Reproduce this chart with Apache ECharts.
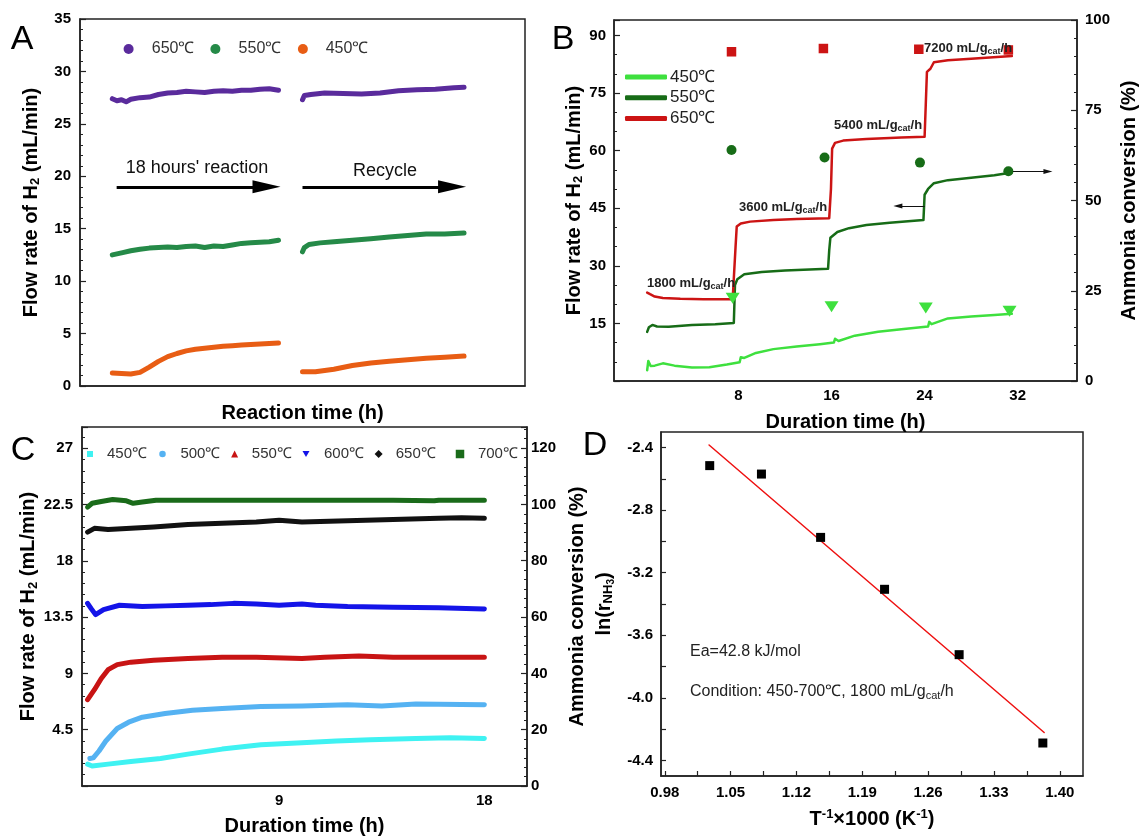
<!DOCTYPE html>
<html><head><meta charset="utf-8">
<script src="https://cdn.jsdelivr.net/npm/echarts@6/dist/echarts.min.js"></script>
<style>html,body{margin:0;padding:0;background:#fff}#c{width:1140px;height:840px}</style>
</head><body><div id="c"></div><script>
const FONT = 'Arial, "Liberation Sans", Helvetica, sans-serif';

// ---------- Panel A: H2 flow rate, 18 h reaction + recycle ----------
const tempsA = ['650℃', '550℃', '450℃'];
const a650s1 = [[0,27.4],[0.5,27.2],[1,27.3],[1.5,27.1],[2,27.35],[3,27.5],[4,27.55],[5,27.8],[6,27.95],[7,28.0],[8,28.1],[9,28.05],[10,28.0],[11,28.1],[12,28.15],[13,28.1],[14,28.2],[15,28.2],[16,28.3],[17,28.35],[18,28.2]];
const a650s2 = [[20.6,27.3],[20.8,27.7],[21.5,27.8],[23,27.95],[25,27.9],[27,27.85],[29,27.95],[31,28.15],[33,28.25],[35,28.3],[37,28.45],[38.1,28.5]];
const a550s1 = [[0,12.5],[1,12.7],[2,12.9],[3,13.05],[4,13.15],[5,13.2],[6,13.25],[7,13.2],[8,13.3],[9,13.35],[10,13.2],[11,13.35],[12,13.3],[13,13.45],[14,13.6],[15,13.65],[16,13.7],[17,13.75],[18,13.9]];
const a550s2 = [[20.6,12.8],[20.8,13.2],[21.3,13.5],[22.5,13.65],[24,13.75],[26,13.9],[28,14.05],[30,14.2],[32,14.35],[34,14.5],[36,14.5],[38.1,14.6]];
const a450s1 = [[0,1.25],[1,1.2],[2,1.15],[3,1.3],[4,1.8],[5,2.35],[6,2.8],[7,3.1],[8,3.35],[9,3.5],[10,3.6],[11,3.7],[12,3.8],[13,3.85],[14,3.9],[15,3.95],[16,4.0],[17,4.05],[18,4.1]];
const a450s2 = [[20.6,1.35],[22,1.35],[24,1.6],[26,1.95],[28,2.2],[30,2.35],[32,2.5],[34,2.65],[36,2.75],[38.1,2.85]];
const arrowsA = [[0.47, 16.7, 19.0], [20.6, 36.8, 19.0]]; // [xStart, xEnd, y]

// ---------- Panel B: flow rate vs GHSV ----------
const tempsB = ['450℃', '550℃', '650℃'];
const b450 = [[0.15,2.8],[0.25,5.2],[0.45,3.9],[0.8,4.0],[1.5,4.6],[2.5,4.0],[4,3.5],[5.5,3.6],[7,4.3],[8.1,4.9],[8.2,6.2],[8.5,6.0],[9.5,7.3],[11,8.3],[13,9.0],[15,9.6],[16.2,10.0],[16.3,11.0],[16.6,10.4],[18,11.8],[20,12.8],[22,13.5],[24.3,14.2],[24.4,15.4],[24.6,14.8],[26,16.3],[28,16.8],[30,17.2],[31.5,17.5]];
const b550 = [[0.15,12.8],[0.3,14.0],[0.6,14.6],[1,14.2],[2,14.1],[4,14.6],[6,14.8],[7.6,15.1],[7.7,25],[7.9,26.5],[8.5,27.8],[10,28.4],[12,28.8],[15.7,29.2],[15.8,34],[15.9,37.3],[16.5,38.8],[17.5,39.8],[19,40.6],[21,41.2],[23.9,41.9],[24.0,48.5],[24.3,50],[24.8,51.5],[26,52.3],[28,52.9],[30,53.6],[31.5,54.3]];
const b650 = [[0.15,23.0],[0.4,22.6],[0.8,22.0],[1.5,21.6],[3,21.4],[5,21.3],[7.5,21.3],[7.65,21.5],[7.75,35],[7.85,40.2],[8.2,41.0],[9,41.5],[11,41.9],[13,42.2],[15.8,42.4],[15.95,50],[16.05,60.5],[16.3,62],[17,62.6],[19,63.0],[22,63.4],[24.0,63.6],[24.1,72],[24.2,80.5],[24.5,81.3],[24.8,83.0],[26,83.5],[28,83.9],[31.5,84.6]];
const conv450 = [[7.5,22.9],[16.0,20.6],[24.1,20.2],[31.3,19.3]];
const conv550 = [[7.4,64.0],[15.4,61.9],[23.6,60.5],[31.2,58.1]];
const conv650 = [[7.4,91.2],[15.3,92.1],[23.5,91.9],[31.2,91.7]];
const ghsvLabels = ['1800', '3600', '5400', '7200'];
const xTicksB = [8, 16, 24, 32];

// ---------- Panel C: flow rate at different temperatures ----------
const tempsC = ['450℃', '500℃', '550℃', '600℃', '650℃', '700℃'];
const c450 = [[0.6,1.75],[0.8,1.6],[1.5,1.75],[2.5,1.95],[3.8,2.2],[5,2.55],[6.5,2.95],[8.2,3.3],[10,3.45],[11.5,3.6],[13,3.7],[15,3.8],[16.5,3.85],[18,3.8]];
const c500 = [[0.7,2.2],[0.85,2.25],[1.1,2.8],[1.4,3.6],[1.9,4.6],[2.4,5.1],[3,5.5],[4,5.8],[5.2,6.05],[6.5,6.2],[8.2,6.35],[10,6.4],[12,6.5],[13.5,6.4],[15,6.55],[18,6.5]];
const c550 = [[0.6,6.9],[0.9,7.7],[1.2,8.6],[1.5,9.3],[1.9,9.7],[2.5,9.9],[3.5,10.05],[5,10.2],[6.5,10.3],[8,10.3],[10,10.2],[11,10.3],[12.5,10.4],[14,10.3],[16,10.3],[18,10.3]];
const c600 = [[0.6,14.6],[0.75,14.2],[0.95,13.7],[1.3,14.1],[2,14.45],[3,14.35],[4,14.4],[5,14.45],[6,14.5],[7,14.6],[8,14.55],[9,14.45],[10,14.55],[10.6,14.45],[12,14.35],[14,14.3],[16,14.25],[18,14.15]];
const c650 = [[0.6,20.3],[0.9,20.6],[1.5,20.5],[2.5,20.6],[3.5,20.7],[5,20.9],[6.5,21.0],[8,21.1],[9,21.25],[10,21.1],[12,21.2],[14,21.3],[16,21.4],[17,21.45],[18,21.4]];
const c700 = [[0.6,22.3],[0.8,22.6],[1.2,22.75],[1.7,22.9],[2.3,22.8],[2.6,22.6],[3,22.7],[3.6,22.85],[5,22.85],[8,22.85],[11,22.85],[14,22.85],[15.8,22.8],[16,22.85],[18,22.85]];
const xTicksC = [9, 18];

// ---------- Panel D: Arrhenius plot ----------
const invT = [1.0278, 1.0828, 1.1457, 1.2137, 1.2930, 1.3820];
const lnRate = [-2.515, -2.569, -2.974, -3.306, -3.724, -4.289];
const fitLine = [[1.0271, -2.383], [1.3834, -4.222]];
const xTicksD = [0.98, 1.05, 1.12, 1.19, 1.26, 1.33, 1.40];
const xMinorD = [1.015, 1.085, 1.155, 1.225, 1.295, 1.365];
const yTicksD = [-4.4, -4.0, -3.6, -3.2, -2.8, -2.4];
const yMinorD = [-4.2, -3.8, -3.4, -3.0, -2.6];

// ---------- styles ----------
const AX = '#222';
const colA = {'650℃': '#5a2b9c', '550℃': '#258a48', '450℃': '#e85d14'};
const colB = {'450℃': '#3ee03e', '550℃': '#176c17', '650℃': '#cc1414'};
const colC = {'450℃': '#3ff2f2', '500℃': '#55b2f2', '550℃': '#c81414', '600℃': '#1414e8', '650℃': '#111111', '700℃': '#1a6b1a'};
const tickLabel = {fontSize: 15, fontWeight: 'bold', color: '#000', fontFamily: FONT};
const nameStyle = {fontSize: 20, fontWeight: 'bold', color: '#000', fontFamily: FONT,
  rich: {s: {fontSize: 13, fontWeight: 'bold', fontFamily: FONT, color: '#000', padding: [9, 0, 0, 0]},
         ss: {fontSize: 10, fontWeight: 'bold', fontFamily: FONT, color: '#000', padding: [14, 0, 0, 0]},
         p: {fontSize: 13, fontWeight: 'bold', fontFamily: FONT, color: '#000', padding: [0, 0, 10, 0]}}};
const axLine = {show: true, onZero: false, lineStyle: {color: AX, width: 1.5}};
const gridBox = {show: true, borderColor: AX, borderWidth: 1.5, backgroundColor: 'transparent', outerBoundsMode: 'none', containLabel: false};

function yAx(o) {
  return Object.assign({type: 'value', position: 'left', axisLine: axLine, splitLine: {show: false},
    axisTick: {show: true, inside: true, length: 6, lineStyle: {color: AX, width: 1.2}},
    minorTick: {show: true, splitNumber: 5, length: 3, lineStyle: {color: AX, width: 1}},
    nameLocation: 'middle', nameRotate: 90, nameTextStyle: nameStyle}, o);
}
function xAx(o) {
  return Object.assign({type: 'value', position: 'bottom', axisLine: axLine, splitLine: {show: false},
    axisTick: {show: false}, nameLocation: 'middle', nameTextStyle: nameStyle}, o);
}

const option = {
  backgroundColor: '#fff',
  animation: false,
  grid: [
    Object.assign({left: 80, top: 19, width: 445, height: 367}, gridBox),
    Object.assign({left: 614, top: 20, width: 463, height: 361}, gridBox),
    Object.assign({left: 82, top: 427, width: 445, height: 359}, gridBox),
    Object.assign({left: 661, top: 432, width: 422, height: 344}, gridBox)
  ],
  xAxis: [
    xAx({gridIndex: 0, min: -3.5, max: 44.7, axisLabel: {show: false}, name: 'Reaction time (h)', nameGap: 17}),
    xAx({gridIndex: 1, min: -2.7, max: 37.1, name: 'Duration time (h)', nameGap: 31,
      axisLabel: Object.assign({customValues: xTicksB, margin: 7}, tickLabel)}),
    xAx({gridIndex: 2, min: 0.355, max: 19.87, name: 'Duration time (h)', nameGap: 30,
      axisLabel: Object.assign({customValues: xTicksC, margin: 7}, tickLabel)}),
    xAx({gridIndex: 3, min: 0.976, max: 1.4247, name: 'T{p|-1}×1000 (K{p|-1})', nameGap: 32,
      axisTick: {show: true, inside: true, length: 5, customValues: xTicksD.concat(xMinorD), lineStyle: {color: AX, width: 1.2}},
      axisLabel: Object.assign({customValues: xTicksD, margin: 9, formatter: v => v.toFixed(2)}, tickLabel)})
  ],
  yAxis: [
    yAx({gridIndex: 0, min: 0, max: 35, interval: 5, name: 'Flow rate of H{s|2} (mL/min)', nameGap: 38,
      axisLabel: Object.assign({margin: 9}, tickLabel)}),
    yAx({gridIndex: 1, min: 0, max: 94, interval: 15, name: 'Flow rate of H{s|2} (mL/min)', nameGap: 28,
      minorTick: {show: true, splitNumber: 3, length: 3, lineStyle: {color: AX, width: 1}},
      axisLabel: Object.assign({margin: 8, formatter: v => (v > 0 && v <= 90 && v % 15 === 0) ? String(v) : ''}, tickLabel)}),
    yAx({gridIndex: 1, position: 'right', min: 0, max: 100, interval: 25, name: 'Ammonia conversion (%)', nameGap: 42,
      axisLabel: Object.assign({margin: 8}, tickLabel)}),
    yAx({gridIndex: 2, min: 0, max: 28.7, interval: 4.5, name: 'Flow rate of H{s|2} (mL/min)', nameGap: 36,
      axisLabel: Object.assign({margin: 9, formatter: v => (v > 0 && v <= 27) ? String(v) : ''}, tickLabel)}),
    yAx({gridIndex: 2, position: 'right', min: 0, max: 127.5, interval: 20, name: 'Ammonia conversion (%)', nameGap: 40,
      minorTick: {show: true, splitNumber: 6, length: 3, lineStyle: {color: AX, width: 1}},
      axisLabel: Object.assign({margin: 4, formatter: v => (v <= 120) ? String(v) : ''}, tickLabel)}),
    yAx({gridIndex: 3, min: -4.5, max: -2.3, name: 'ln(r{s|NH}{ss|3})', nameGap: 45,
      minorTick: {show: false},
      axisTick: {show: true, inside: true, length: 5, customValues: yTicksD.concat(yMinorD), lineStyle: {color: AX, width: 1.2}},
      axisLabel: Object.assign({margin: 8, customValues: yTicksD, formatter: v => v.toFixed(1)}, tickLabel)})
  ],
  legend: [],
  series: [],
  graphic: []
};

function lineSeries(name, data, color, width, xi, yi) {
  return {type: 'line', name, data, xAxisIndex: xi, yAxisIndex: yi, symbol: 'none', silent: true,
    itemStyle: {color, opacity: 1}, lineStyle: {color, width, cap: 'round', join: 'round', opacity: 1}, z: 3};
}
function scatterSeries(name, data, color, symbol, size, xi, yi) {
  return {type: 'scatter', name, data, xAxisIndex: xi, yAxisIndex: yi, symbol, symbolSize: size,
    itemStyle: {color, opacity: 1}, silent: true, z: 4};
}

// Panel A series
const segsA = {'650℃': [a650s1, a650s2], '550℃': [a550s1, a550s2], '450℃': [a450s1, a450s2]};
tempsA.forEach(t => segsA[t].forEach(seg => option.series.push(lineSeries('A|' + t, seg, colA[t], 5, 0, 0))));
option.series.push({type: 'line', xAxisIndex: 0, yAxisIndex: 0, data: [], silent: true,
  markLine: {silent: true, symbol: ['none', 'triangle'], symbolSize: [13, 28], label: {show: false},
    lineStyle: {color: '#000', width: 3, type: 'solid'}, animation: false,
    data: arrowsA.map(a => [{coord: [a[0], a[2]]}, {coord: [a[1], a[2]]}])}});

// Panel B series
const linesB = {'450℃': b450, '550℃': b550, '650℃': b650};
tempsB.forEach(t => option.series.push(lineSeries('B|' + t, linesB[t], colB[t], 2.5, 1, 1)));
const downTri = 'path://M0,0L10,0L5,8.5Z';
option.series.push(scatterSeries('Bc450', conv450, colB['450℃'], downTri, [14, 11], 1, 2));
option.series.push(scatterSeries('Bc550', conv550, colB['550℃'], 'circle', 10, 1, 2));
option.series.push(scatterSeries('Bc650', conv650, colB['650℃'], 'rect', 9.5, 1, 2));
option.series.push({type: 'line', xAxisIndex: 1, yAxisIndex: 1, data: [], silent: true,
  markLine: {silent: true, symbol: ['none', 'triangle'], symbolSize: [5, 9], label: {show: false},
    lineStyle: {color: '#111', width: 1, type: 'solid'}, animation: false,
    data: [[{coord: [24.0, 45.6]}, {coord: [21.7, 45.6]}]]}});
option.series.push({type: 'line', xAxisIndex: 1, yAxisIndex: 2, data: [], silent: true,
  markLine: {silent: true, symbol: ['none', 'triangle'], symbolSize: [5, 9], label: {show: false},
    lineStyle: {color: '#111', width: 1, type: 'solid'}, animation: false,
    data: [[{coord: [31.6, 58.0]}, {coord: [34.6, 58.0]}]]}});

// Panel C series
const linesC = {'450℃': c450, '500℃': c500, '550℃': c550, '600℃': c600, '650℃': c650, '700℃': c700};
tempsC.forEach(t => option.series.push(lineSeries('C|' + t, linesC[t], colC[t], 5, 2, 3)));

// Panel D series
option.series.push(scatterSeries('Dpts', invT.map((x, i) => [x, lnRate[i]]), '#000', 'rect', 9, 3, 5));
option.series.push(lineSeries('Dfit', fitLine, '#ee1111', 1.5, 3, 5));

// Legends
const legText = n => n.split('|')[1];
const legA = [[128.6, 151.8], [215.4, 238.6], [302.9, 325.7]];
tempsA.forEach((t, i) => option.legend.push({
  left: legA[i][0] - 5, top: 49 - 10, padding: 0, selectedMode: false, icon: 'circle', itemWidth: 10, itemHeight: 10,
  data: ['A|' + t], formatter: legText,
  textStyle: {fontSize: 16, color: '#333', fontFamily: FONT, lineHeight: 20, padding: [0, 0, 0, legA[i][1] - legA[i][0] - 10]}
}));
option.legend.push({
  left: 625, top: 67, padding: 0, orient: 'vertical', selectedMode: false, icon: 'roundRect', itemWidth: 42, itemHeight: 5, itemGap: 0.7,
  data: tempsB.map(t => 'B|' + t), formatter: legText,
  textStyle: {fontSize: 17, color: '#222', fontFamily: FONT, lineHeight: 20, padding: [0, 0, 0, -2]}
});
const legC = [[90, 107, 6, 'rect'], [162.5, 180.4, 6.5, 'circle'], [234.6, 251.8, 7, 'triangle'], [306, 324, 7, downTri], [378.6, 395.7, 8, 'diamond'], [460, 477.9, 8.5, 'rect']];
tempsC.forEach((t, i) => {
  const [cx, tx, sz, icon] = legC[i];
  option.legend.push({
    left: cx - sz / 2, top: 454 - 10, padding: 0, selectedMode: false, itemWidth: sz, itemHeight: sz,
    data: [{name: 'C|' + t, icon}], formatter: legText,
    textStyle: {fontSize: 15, color: '#333', fontFamily: FONT, lineHeight: 20, padding: [0, 0, 0, tx - (cx + sz / 2) - 5]}
  });
});

// Text annotations
function txt(x, y, text, o) {
  return {type: 'text', x, y, z: 100, silent: true, style: Object.assign({text, fill: '#000', fontFamily: FONT}, o)};
}
option.graphic.push(txt(22, 40, 'A', {fontSize: 34, align: 'center', verticalAlign: 'middle'}));
option.graphic.push(txt(563, 40, 'B', {fontSize: 34, align: 'center', verticalAlign: 'middle'}));
option.graphic.push(txt(23, 451, 'C', {fontSize: 34, align: 'center', verticalAlign: 'middle'}));
option.graphic.push(txt(595, 446, 'D', {fontSize: 34, align: 'center', verticalAlign: 'middle'}));
option.graphic.push(txt(197, 168, "18 hours' reaction", {fontSize: 18, align: 'center', verticalAlign: 'middle', fill: '#111'}));
option.graphic.push(txt(385, 171, 'Recycle', {fontSize: 18, align: 'center', verticalAlign: 'middle', fill: '#111'}));
const subRich = {fontWeight: 'bold', fontSize: 13, fontFamily: FONT, fill: '#222',
  rich: {m: {fontSize: 13, fontWeight: 'bold', fontFamily: FONT, fill: '#222'},
         s: {fontSize: 9, fontWeight: 'bold', fontFamily: FONT, fill: '#222', padding: [7, 0, 0, 0]}}};
const ghsvPos = [[647, 283], [739, 207], [834, 125], [924, 48]];
ghsvLabels.forEach((g, i) => option.graphic.push(txt(ghsvPos[i][0], ghsvPos[i][1], '{m|' + g + ' mL/g}{s|cat}{m|/h}',
  Object.assign({align: 'left', verticalAlign: 'middle'}, subRich))));
option.graphic.push(txt(690, 652, 'Ea=42.8 kJ/mol', {fontSize: 16, align: 'left', verticalAlign: 'middle', fill: '#222'}));
option.graphic.push(txt(690, 692, '{m|Condition: 450-700℃, 1800 mL/g}{s|cat}{m|/h}', {align: 'left', verticalAlign: 'middle',
  rich: {m: {fontSize: 16, fontFamily: FONT, fill: '#222'}, s: {fontSize: 11, fontFamily: FONT, fill: '#222', padding: [8, 0, 0, 0]}}}));

const chart = echarts.init(document.getElementById('c'), null, {renderer: 'canvas'});
chart.setOption(option);
</script></body></html>
